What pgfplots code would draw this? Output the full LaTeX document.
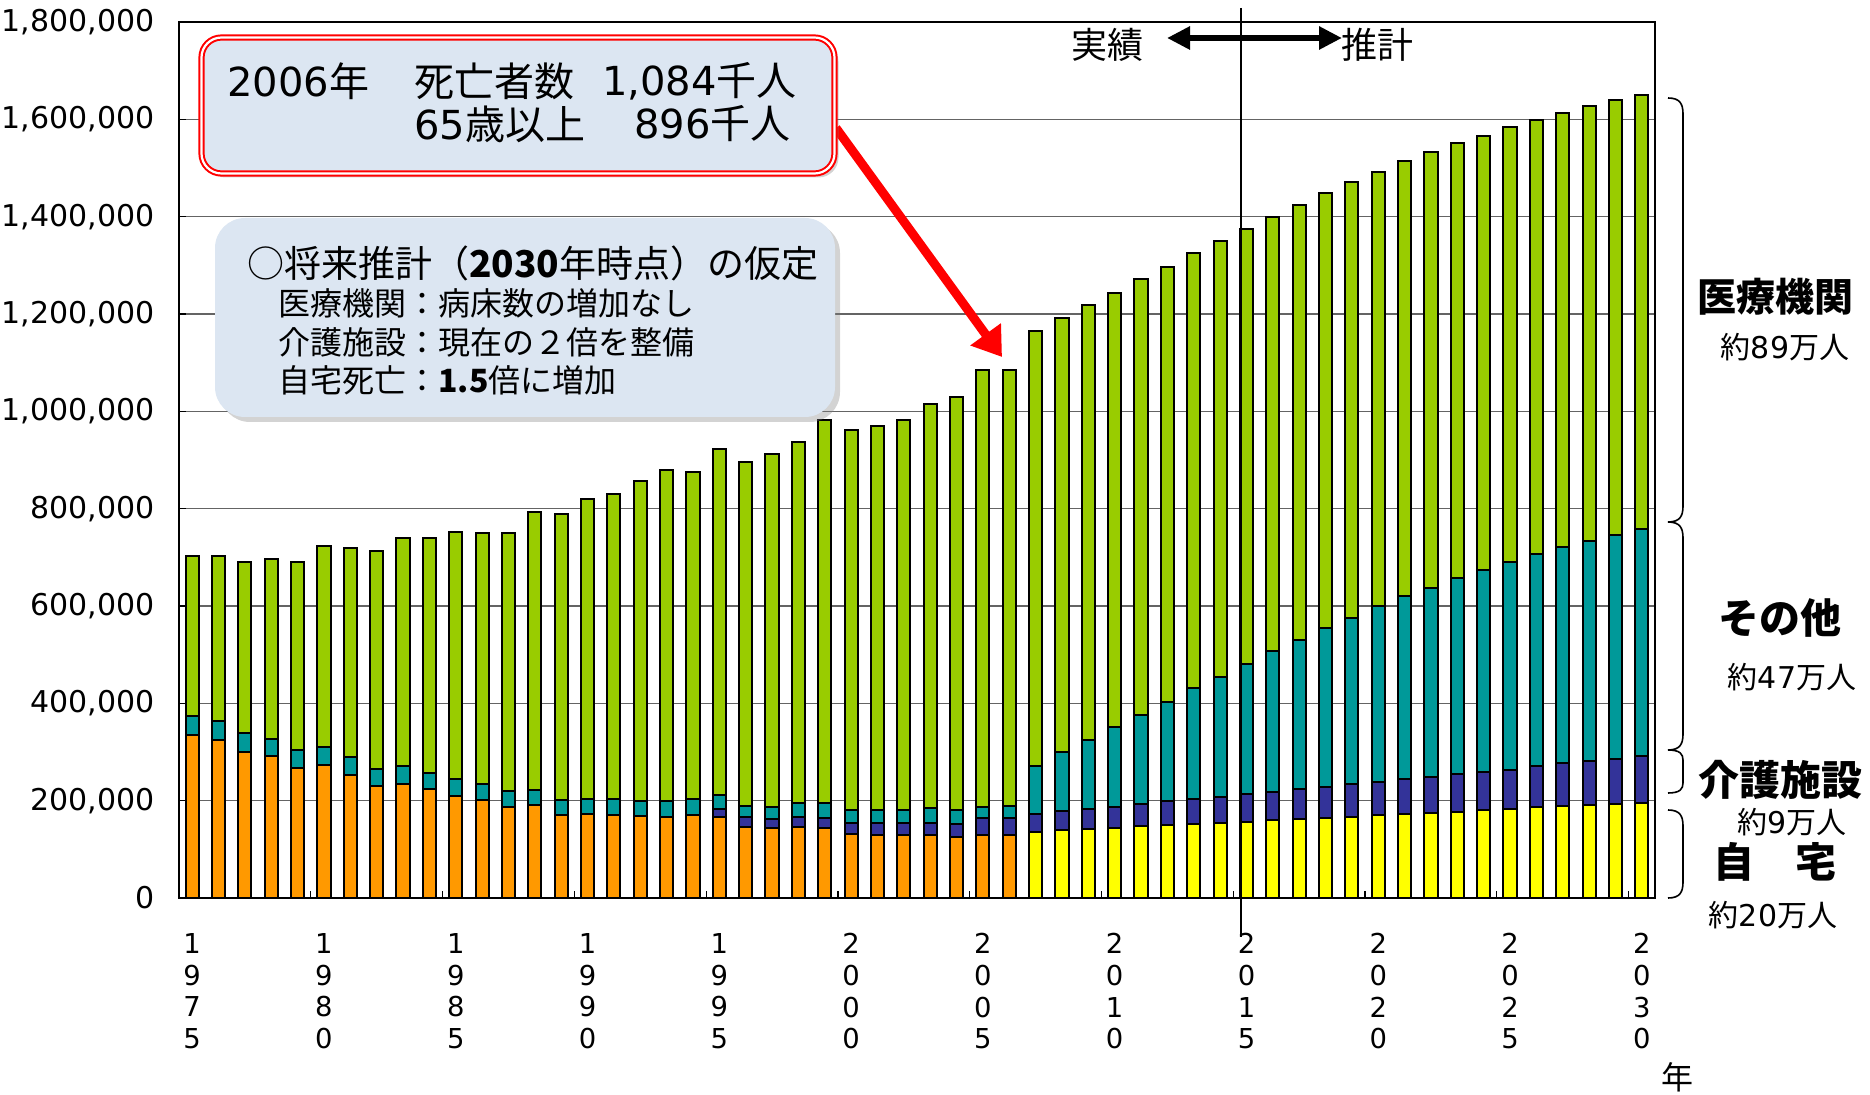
\documentclass[border=0pt]{standalone}
\usepackage{fontspec}
\usepackage{pgfplots}
\usepackage{pgfplotstable}
\pgfplotsset{compat=1.18}
\usetikzlibrary{arrows.meta,shadows}
\setmainfont{Noto Sans CJK JP}
\newfontfamily\numfont{DejaVu Sans}
\definecolor{cOrange}{HTML}{FF9900}
\definecolor{cYellow}{HTML}{FFFF00}
\definecolor{cNavy}{HTML}{333399}
\definecolor{cTeal}{HTML}{009999}
\definecolor{cGreen}{HTML}{99CC00}
\definecolor{boxblue}{HTML}{DCE6F2}
\definecolor{gridgray}{HTML}{646464}

% x: 0=1975 ... 55=2030 ; ha: home (actual), hp: home (projection), care, other, med
\pgfplotstableread{
x ha hp care other med
0 334000 0 0 39000 329000
1 324000 0 0 39000 340000
2 300000 0 0 40000 350000
3 291000 0 0 36000 369000
4 268000 0 0 37000 385000
5 273000 0 0 37000 413000
6 253000 0 0 37000 430000
7 231000 0 0 34000 447000
8 235000 0 0 37000 468000
9 223000 0 0 34000 483000
10 210000 0 0 34000 508000
11 201000 0 0 33000 517000
12 188000 0 0 31000 532000
13 191000 0 0 31000 571000
14 170000 0 0 32000 587000
15 172000 0 0 32000 616000
16 170000 0 0 33000 627000
17 168000 0 0 32000 657000
18 167000 0 0 33000 679000
19 170000 0 0 33000 673000
20 166000 0 17000 29000 710000
21 146000 0 20000 24000 706000
22 144000 0 19000 25000 725000
23 146000 0 20000 30000 740000
24 144000 0 21000 31000 786000
25 131000 0 23000 26000 782000
26 129000 0 26000 25000 790000
27 129000 0 26000 25000 802000
28 129000 0 26000 29000 831000
29 125000 0 27000 28000 849000
30 129000 0 35000 24000 896000
31 129000 0 35000 26000 894000
32 0 136000 37000 99000 894000
33 0 139000 39000 121000 892000
34 0 142000 41000 141000 894000
35 0 144000 44000 163000 893000
36 0 147000 46000 184000 895000
37 0 149000 50000 203000 895000
38 0 152000 51000 228000 894000
39 0 155000 53000 247000 894000
40 0 157000 57000 267000 894000
41 0 160000 58000 289000 893000
42 0 163000 61000 306000 895000
43 0 165000 64000 325000 894000
44 0 167000 67000 342000 895000
45 0 170000 69000 360000 892000
46 0 172000 72000 376000 894000
47 0 175000 74000 389000 894000
48 0 177000 77000 404000 894000
49 0 180000 79000 416000 891000
50 0 183000 81000 427000 893000
51 0 187000 84000 435000 893000
52 0 190000 87000 444000 893000
53 0 192000 89000 453000 894000
54 0 194000 92000 460000 893000
55 0 196000 96000 466000 892000
}\data

\newcommand{\brk}[2]{\draw[line width=0.8pt] (1668,#1) .. controls (1680,#1) and (1683,{#1+6}) .. (1683,{#1+16}) -- (1683,{#2-16}) .. controls (1683,{#2-6}) and (1680,#2) .. (1668,#2);}

\begin{document}
\begin{tikzpicture}
\path[use as bounding box] (0,0) rectangle (935pt,547pt);
\begin{axis}[
  at={(89.5pt,98pt)}, anchor=south west,
  scale only axis, width=738pt, height=438pt,
  ybar stacked, bar width=0.5,
  enlarge x limits=false,
  xmin=-0.5, xmax=55.5, ymin=0, ymax=1800000,
  ytick={0,200000,400000,600000,800000,1000000,1200000,1400000,1600000,1800000},
  yticklabels={{0},{200,000},{400,000},{600,000},{800,000},{1,000,000},{1,200,000},{1,400,000},{1,600,000},{1,800,000}},
  yticklabel style={font=\numfont\fontsize{15}{17}\selectfont, inner sep=0pt, xshift=-12pt},
  ymajorgrids, grid style={draw=gridgray, line width=0.7pt},
  axis line style={line width=1pt},
  tick align=inside, xtick pos=left, ytick pos=left,
  major tick length=3.5pt,
  tick style={black, line width=0.6pt},
  xtick={4.5,9.5,...,54.5}, xticklabels={},
  extra x ticks={0,5,...,55},
  extra x tick labels={{1\\9\\7\\5},{1\\9\\8\\0},{1\\9\\8\\5},{1\\9\\9\\0},{1\\9\\9\\5},{2\\0\\0\\0},{2\\0\\0\\5},{2\\0\\1\\0},{2\\0\\1\\5},{2\\0\\2\\0},{2\\0\\2\\5},{2\\0\\3\\0}},
  extra x tick style={major tick length=0pt},
  xticklabel style={align=center, font=\numfont\fontsize{13.7}{15.85}\selectfont, inner sep=0pt, anchor=north, yshift=-17.5pt},
  every axis plot/.append style={draw=black, line width=1pt},
]
\addplot[fill=cOrange] table[x=x,y=ha]{\data};
\addplot[fill=cYellow] table[x=x,y=hp]{\data};
\addplot[fill=cNavy] table[x=x,y=care]{\data};
\addplot[fill=cTeal] table[x=x,y=other]{\data};
\addplot[fill=cGreen] table[x=x,y=med]{\data};
\end{axis}

\begin{scope}[x=0.5pt, y=-0.5pt, yshift=547pt]
  % vertical divider
  \draw[line width=0.8pt] (1241,8) -- (1241,937);
  % top arrow
  \draw[line width=3.2pt, {Triangle[length=11.5pt,width=11pt]}-{Triangle[length=11.5pt,width=11pt]}] (1167,38) -- (1342,38);
  \node[font=\fontsize{18}{20}\selectfont, inner sep=0pt] at (1107,45) {実績};
  \node[font=\fontsize{18}{20}\selectfont, inner sep=0pt] at (1377,45) {推計};
  % red arrow
  \draw[red, line width=4.5pt, -{Triangle[length=14pt,width=18pt]}] (836,128) -- (1002,357);
  % box 1
  \node[draw=red, line width=1pt, double=white, double distance=1.1pt, fill=boxblue,
        rounded corners=10pt, minimum width=316.5pt, minimum height=68pt, inner sep=0pt,
        drop shadow={shadow xshift=2pt, shadow yshift=-2pt, opacity=0.35, fill=gray}] at (518,105.5) {};
  \begin{scope}[every node/.style={font=\fontsize{20}{22}\selectfont, inner sep=0pt}]
    \node[anchor=west] at (227,81) {{\numfont 2006}年};
    \node[anchor=west] at (414,81) {死亡者数};
    \node[anchor=east] at (797,81) {{\numfont 1,084}千人};
    \node[anchor=west] at (414,124) {{\numfont 65}歳以上};
    \node[anchor=east] at (791,124) {{\numfont 896}千人};
  \end{scope}
  % box 2
  \node[fill=boxblue, rounded corners=15pt, minimum width=310pt, minimum height=99.5pt, inner sep=0pt,
        drop shadow={shadow xshift=2.5pt, shadow yshift=-2.5pt, opacity=0.35, fill=gray}] at (525,317.5) {};
  \node[anchor=west, inner sep=0pt, font=\fontsize{18.5}{20}\selectfont] at (247,263) {○将来推計（\textbf{2030}年時点）の仮定};
  \begin{scope}[every node/.style={anchor=west, font=\fontsize{16}{18}\selectfont, inner sep=0pt}]
    \node at (278,303) {医療機関：病床数の増加なし};
    \node at (278,342) {介護施設：現在の２倍を整備};
    \node at (278,380) {自宅死亡：\textbf{1.5}倍に増加};
  \end{scope}
  % brackets
  \brk{98}{522}
  \brk{522}{750}
  \draw[line width=0.8pt] (1668,750) .. controls (1680,750) and (1683,754) .. (1683,760) -- (1683,783) .. controls (1683,789) and (1680,793) .. (1668,793);
  \brk{810}{898}
  % right labels
  \begin{scope}[every node/.style={inner sep=0pt}]
    \node[font=\bfseries\fontsize{19.5}{21}\selectfont] at (1775,297) {医療機関};
    \node[font=\fontsize{15}{17}\selectfont] at (1785,347) {約{\numfont 89}万人};
    \node[font=\bfseries\fontsize{20.5}{22}\selectfont] at (1780,618) {その他};
    \node[font=\fontsize{15}{17}\selectfont] at (1792,677) {約{\numfont 47}万人};
    \node[font=\bfseries\fontsize{20.5}{22}\selectfont] at (1780,780) {介護施設};
    \node[font=\fontsize{15}{17}\selectfont] at (1792,822) {約{\numfont 9}万人};
    \node[font=\bfseries\fontsize{20.5}{22}\selectfont] at (1775,862) {自　宅};
    \node[font=\fontsize{15}{17}\selectfont] at (1773,915) {約{\numfont 20}万人};
    \node[font=\fontsize{16}{18}\selectfont] at (1677,1077) {年};
  \end{scope}
\end{scope}
\end{tikzpicture}
\end{document}
